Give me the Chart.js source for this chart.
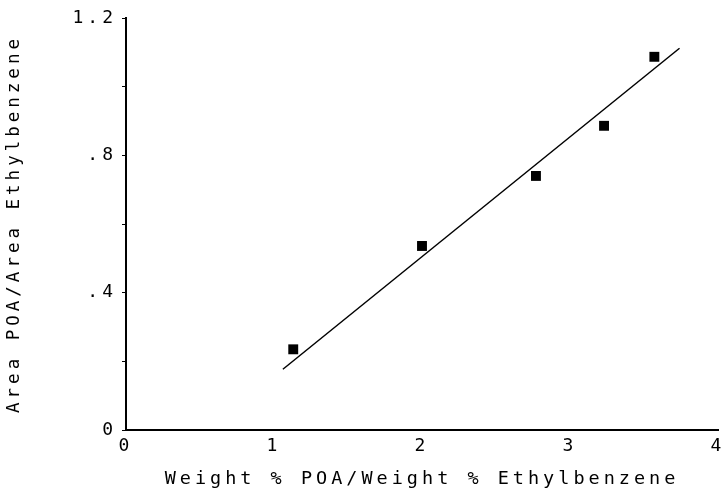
<!DOCTYPE html>
<html>
<head>
<meta charset="utf-8">
<script src="https://cdn.jsdelivr.net/npm/chart.js@4"></script>
<style>
  html, body { margin: 0; padding: 0; background: #fff; }
  #wrap { width: 725px; height: 493px; }
</style>
</head>
<body>
<div id="wrap"><canvas id="myChart"></canvas></div>
<script>
// measured points
const weightRatio = [1.13, 2.0, 2.77, 3.23, 3.57];
const areaRatio = [0.235, 0.536, 0.740, 0.886, 1.087];

// fitted line, ends only
const fitX = [1.06, 3.74];
const fitY = [0.177, 1.112];

// y tick labels as printed on the plot
const yTickValues = [0, 0.4, 0.8, 1.2];
const yTickText = ['0', '.4', '.8', '1.2'];
const xTickValues = [0, 1, 2, 3, 4];

const FONT = "'DejaVu Sans Mono', 'Liberation Mono', monospace";

// plotter-style lettering: wide spacing between characters
const spacing = {
  id: 'spacing',
  beforeUpdate(chart) { chart.ctx.letterSpacing = '4px'; },
  beforeDraw(chart) { chart.ctx.letterSpacing = '4px'; }
};

const ctx = document.getElementById('myChart').getContext('2d');

new Chart(ctx, {
  type: 'scatter',
  data: {
    datasets: [
      {
        label: 'Data',
        data: weightRatio.map((x, i) => ({ x: x, y: areaRatio[i] })),
        pointStyle: 'rect',
        pointRadius: 7,
        pointHoverRadius: 7,
        backgroundColor: '#000',
        borderColor: '#000',
        borderWidth: 0
      },
      {
        label: 'Fit',
        type: 'line',
        data: fitX.map((x, i) => ({ x: x, y: fitY[i] })),
        borderColor: '#000',
        borderWidth: 1.5,
        pointRadius: 0,
        fill: false,
        tension: 0
      }
    ]
  },
  options: {
    responsive: true,
    maintainAspectRatio: false,
    animation: false,
    layout: {
      padding: { top: 18, right: 7, left: 0, bottom: 0 }
    },
    plugins: {
      legend: { display: false },
      tooltip: { enabled: false }
    },
    scales: {
      x: {
        type: 'linear',
        min: 0,
        max: 4,
        afterBuildTicks(scale) {
          scale.ticks = xTickValues.map(v => ({ value: v }));
        },
        afterFit(scale) {
          scale.height = 63;
          scale.paddingLeft = 0;
          scale.paddingRight = 0;
        },
        ticks: {
          color: '#000',
          padding: 6,
          maxRotation: 0,
          font: { family: FONT, size: 18 }
        },
        grid: { display: true, drawOnChartArea: false, drawTicks: false },
        border: { display: true, color: '#000', width: 2 },
        title: {
          display: true,
          text: 'Weight % POA/Weight % Ethylbenzene',
          color: '#000',
          font: { family: FONT, size: 18.5 },
          padding: { top: 0, bottom: 3 }
        }
      },
      y: {
        type: 'linear',
        min: 0,
        max: 1.2,
        afterFit(scale) { scale.width = 126; },
        ticks: {
          stepSize: 0.2,
          color: '#000',
          padding: 5,
          font: { family: FONT, size: 18 },
          callback(value) {
            const i = yTickValues.findIndex(v => Math.abs(v - value) < 1e-6);
            return i >= 0 ? yTickText[i] : '';
          }
        },
        grid: {
          display: true,
          drawOnChartArea: false,
          drawTicks: true,
          tickLength: 4,
          tickColor: '#000',
          tickWidth: 1
        },
        border: { display: true, color: '#000', width: 2 },
        title: {
          display: true,
          text: 'Area POA/Area Ethylbenzene',
          color: '#000',
          font: { family: FONT, size: 17.5 },
          padding: { top: 4, bottom: 0 }
        }
      }
    }
  },
  plugins: [spacing]
});
</script>
</body>
</html>
